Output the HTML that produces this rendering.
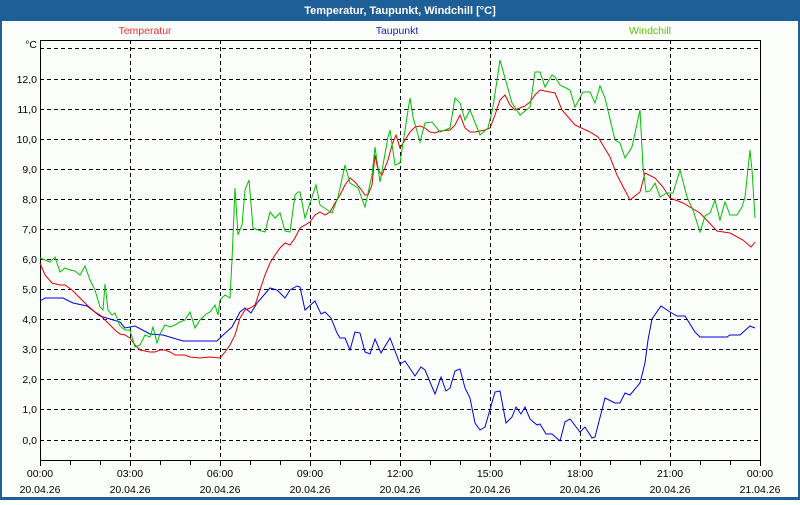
<!DOCTYPE html>
<html><head><meta charset="utf-8"><style>
body{margin:0;width:800px;height:500px;overflow:hidden;background:#fff;font-family:"Liberation Sans",sans-serif}
</style></head><body>
<svg width="800" height="500" xmlns="http://www.w3.org/2000/svg" font-family="Liberation Sans, sans-serif" font-size="10.5">
<rect x="0" y="0" width="800" height="500" fill="#1d5f96"/>
<rect x="2" y="21" width="796" height="476" fill="#fcfefc"/>
<text x="400" y="14" fill="#fff" font-weight="bold" font-size="11" text-anchor="middle">Temperatur, Taupunkt, Windchill [°C]</text>
<text x="145" y="34" fill="#f03030" text-anchor="middle">Temperatur</text>
<text x="397" y="34" fill="#2020c0" text-anchor="middle">Taupunkt</text>
<text x="650" y="34" fill="#60c000" text-anchor="middle">Windchill</text>
<g stroke="#000" stroke-width="1" stroke-dasharray="4,3" fill="none">
<path d="M40 48.5H760M40 79.5H760M40 109.5H760M40 139.5H760M40 169.5H760M40 199.5H760M40 229.5H760M40 259.5H760M40 289.5H760M40 319.5H760M40 349.5H760M40 379.5H760M40 409.5H760M40 440.5H760"/>
<path d="M130.5 40V460M220.5 40V460M310.5 40V460M400.5 40V460M490.5 40V460M580.5 40V460M670.5 40V460"/>
</g>
<rect x="40.5" y="40.5" width="720" height="420" fill="none" stroke="#000"/>
<g stroke="#000"><path d="M70.5 460V465M100.5 460V465M160.5 460V465M190.5 460V465M250.5 460V465M280.5 460V465M340.5 460V465M370.5 460V465M430.5 460V465M460.5 460V465M520.5 460V465M550.5 460V465M610.5 460V465M640.5 460V465M700.5 460V465M730.5 460V465M40.5 460V466M130.5 460V466M220.5 460V466M310.5 460V466M400.5 460V466M490.5 460V466M580.5 460V466M670.5 460V466M760.5 460V466"/></g>
<g text-anchor="end" fill="#000">
<text x="37" y="48">°C</text>
<text x="37" y="83">12,0</text><text x="37" y="113">11,0</text><text x="37" y="143">10,0</text><text x="37" y="173">9,0</text><text x="37" y="203">8,0</text><text x="37" y="233">7,0</text><text x="37" y="263">6,0</text><text x="37" y="293">5,0</text><text x="37" y="323">4,0</text><text x="37" y="353">3,0</text><text x="37" y="383">2,0</text><text x="37" y="413">1,0</text><text x="37" y="444">0,0</text>
</g>
<g text-anchor="middle" fill="#000">
<text x="40" y="477">00:00</text><text x="40" y="493">20.04.26</text>
<text x="130" y="477">03:00</text><text x="130" y="493">20.04.26</text>
<text x="220" y="477">06:00</text><text x="220" y="493">20.04.26</text>
<text x="310" y="477">09:00</text><text x="310" y="493">20.04.26</text>
<text x="400" y="477">12:00</text><text x="400" y="493">20.04.26</text>
<text x="490" y="477">15:00</text><text x="490" y="493">20.04.26</text>
<text x="580" y="477">18:00</text><text x="580" y="493">20.04.26</text>
<text x="670" y="477">21:00</text><text x="670" y="493">20.04.26</text>
<text x="760" y="477">00:00</text><text x="760" y="493">21.04.26</text>
</g>
<g fill="none" stroke-width="1">
<polyline stroke="#0000e0" points="40,301 45,298 63,298 73,303 87,306 100,316 120,322 125,328 135,326 150,334 163,335 183,341 217,341 222,336 232,327 240,312 245,308 251,313 257,303 270,288 277,290 285,298 290,290 297,286 300,287 305,310 315,301 321,314 325,312 331,318 337,333 340,338 345,338 350,350 355,332 360,333 365,352 370,354 375,339 381,353 390,338 400,364 405,361 415,376 421,367 425,370 435,394 441,377 446,391 450,388 455,371 460,369 465,388 470,398 475,423 480,430 485,427 495,392 500,391 506,423 512,417 516,407 521,414 525,407 530,419 537,425 540,424 546,434 552,434 560,441 565,422 570,419 580,432 585,427 592,438 595,437 605,398 615,403 620,403 625,393 630,395 640,383 645,363 648,340 652,319 661,306 670,312 677,316 685,316 695,332 700,337 717,337 727,337 730,335 740,335 750,326 755,328"/>
<polyline stroke="#e00000" points="40,263 45,275 52,283 60,285 65,285 72,290 80,298 88,306 95,312 100,315 105,320 110,325 115,330 120,334 125,335 130,338 135,345 140,350 150,352 155,352 160,350 165,350 170,352 175,355 185,355 190,357 200,358 210,357 220,358 225,352 230,345 235,335 240,318 245,310 250,308 255,305 260,290 265,275 270,263 275,255 280,248 285,243 290,245 295,238 300,228 305,225 310,222 315,215 320,212 325,215 330,212 335,203 340,195 345,185 350,178 355,182 360,188 365,195 368,195 372,185 375,155 378,170 382,175 388,160 392,145 396,135 400,148 405,140 410,132 415,127 420,126 425,128 430,132 435,133 440,131 450,130 455,125 460,115 465,128 470,132 475,132 485,130 490,128 495,115 500,100 505,95 510,105 515,110 520,108 525,106 530,102 535,95 540,90 555,93 562,110 575,125 590,132 598,137 610,157 617,175 630,200 640,192 645,173 655,178 663,187 670,198 683,203 700,213 717,231 730,233 743,240 751,247 755,242"/>
<polyline stroke="#00c000" points="40,258 45,260 50,262 55,257 60,272 65,268 70,270 75,271 80,275 85,266 90,280 95,290 100,307 103,310 105,284 108,310 112,315 115,313 120,326 125,330 130,330 135,347 140,345 145,335 150,337 153,327 157,343 160,334 165,325 170,327 175,325 180,322 185,320 190,312 195,328 200,320 205,315 210,312 215,305 218,315 220,300 225,295 230,298 232,260 235,188 238,235 242,225 245,190 249,180 253,228 258,230 265,232 270,212 275,218 280,213 285,231 290,232 295,195 298,192 300,192 305,218 316,185 320,205 332,213 338,197 345,165 350,183 358,188 365,207 372,175 375,147 380,182 388,137 390,130 395,165 400,163 407,117 410,98 413,117 420,142 425,123 432,122 440,132 450,128 455,98 460,103 465,120 470,110 480,135 488,128 493,107 500,60 505,78 512,103 520,115 530,107 535,72 540,72 545,87 552,75 555,77 560,85 570,90 575,107 583,92 590,92 595,103 600,86 605,98 615,140 620,143 625,158 632,147 640,110 643,167 646,192 650,191 655,183 660,197 667,193 673,193 680,170 687,197 693,210 700,232 705,216 710,213 715,200 720,220 725,202 730,215 737,215 742,207 745,197 750,150 752,170 755,218"/>
</g>
</svg>
</body></html>
